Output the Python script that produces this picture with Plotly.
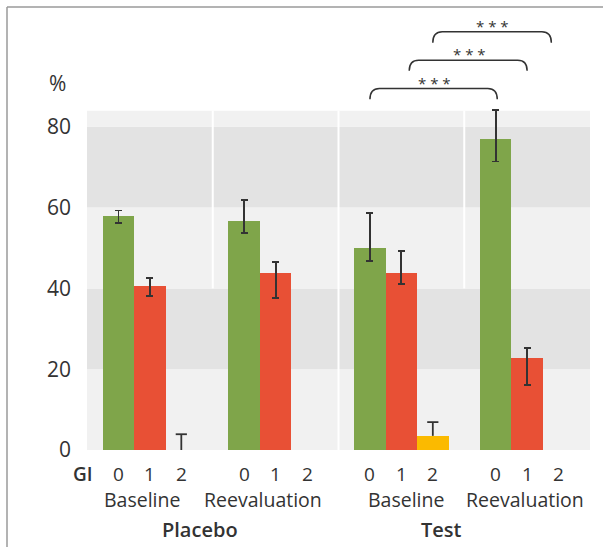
import plotly.graph_objects as go

# ---- data ----
groups = ["Baseline", "Reevaluation", "Baseline", "Reevaluation"]
arms = ["Placebo", "Test"]
gi_labels = ["0", "1", "2"]

gi0 = [58.0, 56.7, 50.0, 77.0]
gi0_plus = [1.3, 5.2, 8.7, 7.2]
gi0_minus = [1.8, 2.9, 3.3, 5.6]

gi1 = [40.6, 43.8, 43.8, 22.8]
gi1_plus = [2.0, 2.7, 5.5, 2.4]
gi1_minus = [2.5, 6.1, 2.8, 6.8]

gi2 = [0.0, None, 3.5, None]
gi2_plus = [3.9, None, 3.4, None]

y_ticks = [0, 20, 40, 60, 80]

colors = ["#7fa54a", "#e85035", "#fbba00"]
TXT = "#333333"
ERR = "#333333"
FONT = "Open Sans"

# plot-area geometry (pixels) used to place free text in paper coordinates
L, R, T, B = 87, 590, 20, 450
def px(xp):
    return (xp - L) / (R - L)
def py(yp):
    return (B - yp) / (B - T)

fig = go.Figure()

series = [(gi0, gi0_plus, gi0_minus), (gi1, gi1_plus, gi1_minus)]
for k, (vals, ep, em) in enumerate(series):
    xs = [4 * g + 1 + k for g in range(len(groups))]
    fig.add_trace(go.Bar(
        x=xs, y=vals, width=1.0, marker=dict(color=colors[k], line=dict(width=0)),
        error_y=dict(type="data", symmetric=False, array=ep, arrayminus=em,
                     color=ERR, thickness=1.8, width=3.5),
        showlegend=False, hoverinfo="skip",
    ))

xs2 = [4 * g + 3 for g in range(len(groups))]
fig.add_trace(go.Bar(x=xs2, y=gi2, width=1.0, marker=dict(color=colors[2], line=dict(width=0)),
                     showlegend=False, hoverinfo="skip"))
# GI 2 error bars: upper whisker only
ex, ey = [], []
for x, v, p in zip(xs2, gi2, gi2_plus):
    if v is None:
        continue
    ex += [x, x, None]
    ey += [v, v + p, None]
fig.add_trace(go.Scatter(x=ex, y=ey, mode="lines", line=dict(color=ERR, width=1.8),
                         showlegend=False, hoverinfo="skip"))
fig.add_trace(go.Scatter(
    x=[x for x, v in zip(xs2, gi2) if v is not None],
    y=[v + p for v, p in zip(gi2, gi2_plus) if v is not None],
    mode="markers", marker=dict(symbol="line-ew", size=8, line=dict(color=ERR, width=1.8)),
    showlegend=False, hoverinfo="skip"))

shapes = []
bands = [(0, 20, "#f1f1f1"), (20, 40, "#e3e3e3"), (40, 60, "#f1f1f1"), (60, 80, "#e3e3e3"), (80, 84, "#f1f1f1")]
for y0, y1, c in bands:
    shapes.append(dict(type="rect", xref="x", yref="y", x0=0, x1=16, y0=y0, y1=y1,
                       fillcolor=c, line=dict(width=0), layer="below"))
for x, y0 in [(4, 40), (8, 0), (12, 40)]:
    shapes.append(dict(type="line", xref="x", yref="y", x0=x, x1=x, y0=y0, y1=84,
                       line=dict(color="white", width=2), layer="below"))

def bracket(x0, x1, ytop, ybot, r=0.3):
    return (f"M {x0},{ybot} Q {x0},{ytop} {x0 + r},{ytop} "
            f"L {x1 - r},{ytop} Q {x1},{ytop} {x1},{ybot}")

brackets = [(9.0, 13.05, 89.5, 86.8), (10.25, 14.0, 96.5, 93.9), (11.0, 14.77, 103.5, 100.8)]
stars = [(11.04, 90.9), (12.18, 98.0), (12.91, 105.0)]
for x0, x1, yt, yb in brackets:
    shapes.append(dict(type="path", xref="x", yref="y", path=bracket(x0, x1, yt, yb),
                       line=dict(color="#333333", width=1.5)))

# frame lines
shapes.append(dict(type="line", xref="paper", yref="paper", x0=px(7), x1=px(7), y0=py(7), y1=py(560),
                   line=dict(color="#9a9a9a", width=1.5)))
shapes.append(dict(type="line", xref="paper", yref="paper", x0=px(7), x1=px(620), y0=py(7), y1=py(7),
                   line=dict(color="#9a9a9a", width=1.5)))

def txt(x, y, text, size, weight=400, xref="paper", yref="paper"):
    return dict(x=x, y=y, xref=xref, yref=yref, text=text, showarrow=False,
                xanchor="center", yanchor="middle",
                font=dict(family=FONT, size=size, color=TXT, weight=weight))

ann = []
for sx, sy in stars:
    ann.append(txt(sx, sy, "* * *", 15, xref="x", yref="y"))
ann.append(txt(px(57.5), py(83.5), "%", 21))
ann.append(txt(px(83), py(474), "GI", 19, 600))
for g in range(len(groups)):
    for k, lab in enumerate(gi_labels):
        ann.append(txt((4 * g + 1 + k) / 16, py(474), lab, 19))
group_px = [142, 262.5, 405.5, 525]
for g, lab in enumerate(groups):
    ann.append(txt(px(group_px[g]), py(499), lab, 19.5))
arm_px = [200, 441]
for a, lab in enumerate(arms):
    ann.append(txt(px(arm_px[a]), py(529), lab, 20, 600))

fig.update_layout(
    width=603, height=547,
    margin=dict(l=L, r=603 - R, t=T, b=547 - B),
    paper_bgcolor="white", plot_bgcolor="white",
    barmode="overlay", bargap=0,
    shapes=shapes, annotations=ann,
    xaxis=dict(range=[0, 16], showgrid=False, zeroline=False, showticklabels=False, fixedrange=True),
    yaxis=dict(range=[0, (B - T) / 4.04], tickvals=y_ticks, showgrid=False, zeroline=False,
               tickfont=dict(family=FONT, size=21, color=TXT), ticklabelstandoff=15, fixedrange=True),
    font=dict(family=FONT),
)

fig.write_html("out.html", config={"displayModeBar": False},
               post_script="document.body.style.margin='0';document.body.style.overflow='hidden';")
